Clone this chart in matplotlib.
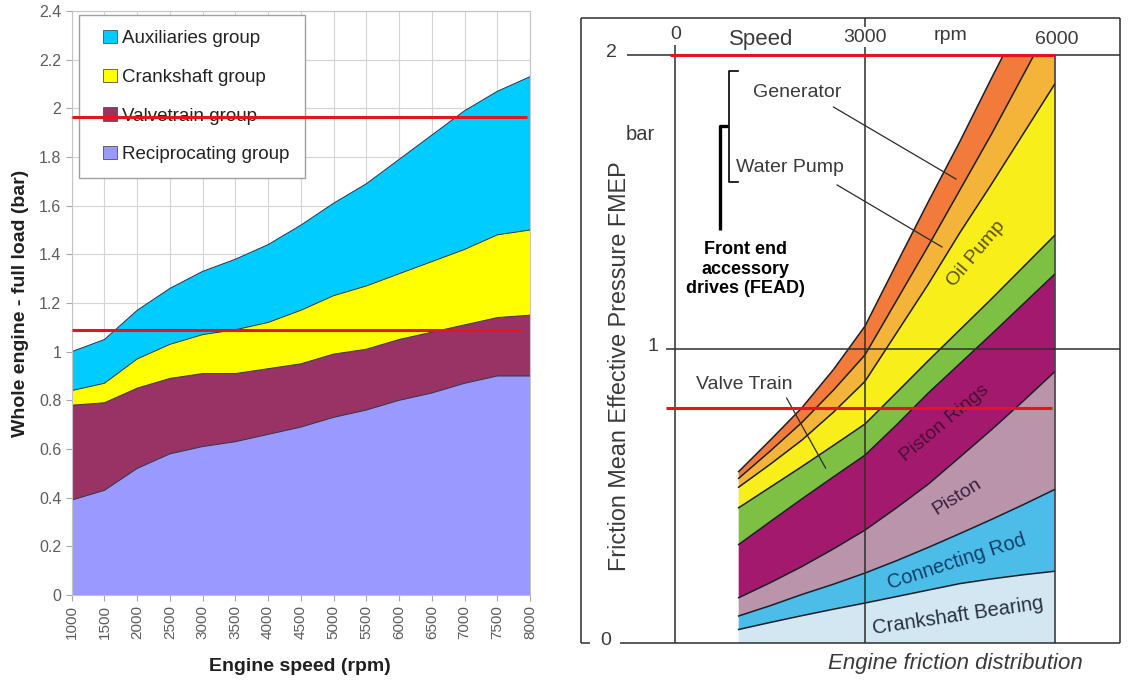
import matplotlib.pyplot as plt
import numpy as np
from matplotlib.patches import Patch, Rectangle
from matplotlib.legend_handler import HandlerPatch

plt.rcParams['font.family'] = ['Liberation Sans', 'DejaVu Sans']

# ---- left chart: friction groups, whole engine at full load ----
speeds = [1000, 1500, 2000, 2500, 3000, 3500, 4000, 4500,
          5000, 5500, 6000, 6500, 7000, 7500, 8000]
reciprocating = [0.39, 0.43, 0.52, 0.58, 0.61, 0.63, 0.66, 0.69,
                 0.73, 0.76, 0.80, 0.83, 0.87, 0.90, 0.90]
valvetrain = [0.39, 0.36, 0.33, 0.31, 0.30, 0.28, 0.27, 0.26,
              0.26, 0.25, 0.25, 0.25, 0.24, 0.24, 0.25]
crankshaft = [0.06, 0.08, 0.12, 0.14, 0.16, 0.18, 0.19, 0.22,
              0.24, 0.26, 0.27, 0.29, 0.31, 0.34, 0.35]
auxiliaries = [0.16, 0.18, 0.20, 0.23, 0.26, 0.29, 0.32, 0.35,
               0.38, 0.42, 0.47, 0.52, 0.57, 0.59, 0.63]
group_names = ['Reciprocating group', 'Valvetrain group',
               'Crankshaft group', 'Auxiliaries group']
group_colors = ['#9999ff', '#993366', '#ffff00', '#00ccff']
left_yticks = [0, 0.2, 0.4, 0.6, 0.8, 1, 1.2, 1.4, 1.6, 1.8, 2, 2.2, 2.4]
# red guide lines drawn over the picture
left_marks = [1.963, 1.088]
left_marks_from = [1000, 1000]
left_marks_to = [7950, 7860]

# ---- right chart: engine friction distribution ----
fd_speeds = [1000, 1500, 2000, 2500, 3000, 3500,
             4000, 4500, 5000, 5500, 6000]
crank_bearing = [0.046, 0.070, 0.093, 0.115, 0.136, 0.158,
                 0.180, 0.202, 0.218, 0.232, 0.244]
conrod = [0.046, 0.057, 0.072, 0.085, 0.102, 0.122,
          0.145, 0.170, 0.202, 0.238, 0.278]
piston = [0.062, 0.078, 0.095, 0.120, 0.146, 0.180,
          0.215, 0.260, 0.305, 0.352, 0.400]
piston_rings = [0.181, 0.208, 0.230, 0.245, 0.255, 0.282,
                0.310, 0.318, 0.325, 0.330, 0.332]
valve_train = [0.125, 0.117, 0.110, 0.107, 0.106, 0.110,
               0.110, 0.115, 0.120, 0.126, 0.132]
oil_pump = [0.070, 0.078, 0.090, 0.113, 0.145, 0.203,
            0.260, 0.330, 0.390, 0.452, 0.514]
water_pump = [0.030, 0.045, 0.060, 0.075, 0.090, 0.110,
              0.130, 0.145, 0.170, 0.200, 0.230]
generator = [0.023, 0.037, 0.050, 0.070, 0.098, 0.125,
             0.150, 0.165, 0.190, 0.200, 0.210]
part_colors = ['#d2e7f2', '#4cbde9', '#b994ab', '#a3196e',
               '#7dc043', '#f7ee1a', '#f4b43a', '#f27a3a']
right_xticks = [0, 3000, 6000]
right_yticks = [0, 1, 2]
right_marks = [2.0, 0.80]
right_marks_from = [-90, -150]
right_marks_to = [6010, 5960]

fig = plt.figure(figsize=(11.34, 6.88), dpi=100)

# ================= left =================
ax = fig.add_axes([71.7 / 1134, 93 / 688, 458.3 / 1134, 584 / 688])
ax.set_axisbelow(True)
ax.grid(True, color='#d4d4d4', lw=0.8)
layers = [reciprocating, valvetrain, crankshaft, auxiliaries]
ax.stackplot(speeds, *layers, colors=group_colors, lw=0)
for top in np.cumsum(layers, axis=0):
    ax.plot(speeds, top, color='#33303f', lw=0.7)
ax.set_xlim(1000, 8000)
ax.set_ylim(0, 2.4)
ax.set_xticks(speeds)
ax.set_xticklabels([str(s) for s in speeds], rotation=90)
ax.set_yticks(left_yticks)
ax.set_yticklabels([f'{v:g}' for v in left_yticks])
ax.tick_params(axis='x', labelsize=11, pad=3)
ax.tick_params(axis='y', labelsize=11.5)
ax.tick_params(colors='#5c5c5c', length=4, width=0.8)
ax.tick_params(color='#a8a8a8', which='both')
for sp in ax.spines.values():
    sp.set_color('#c4c4c4')
ax.set_ylabel('Whole engine - full load (bar)', fontsize=14,
              fontweight='bold', color='#202020')
ax.yaxis.set_label_coords(-0.093, 0.5)
ax.set_xlabel('Engine speed (rpm)', fontsize=14, fontweight='bold',
              color='#202020')
ax.xaxis.set_label_coords(0.498, -0.108)


def square(legend, orig_handle, xdescent, ydescent, width, height, fontsize):
    return Rectangle((width - height - xdescent, -ydescent), height, height)


handles = [Patch(facecolor=c, edgecolor='#505050', lw=0.6, label=n)
           for n, c in zip(group_names, group_colors)][::-1]
leg = ax.legend(handles=handles, loc='upper left',
                bbox_to_anchor=(0.016, 0.993), borderaxespad=0,
                fontsize=13.5, labelspacing=1.15, borderpad=0.8,
                handlelength=1.2, handleheight=0.7, handletextpad=0.3,
                fancybox=False, framealpha=1, edgecolor='#a0a0a0',
                handler_map={Patch: HandlerPatch(patch_func=square)})
leg.get_frame().set_linewidth(1.0)
for t in leg.get_texts():
    t.set_color('#222222')

ax.hlines(left_marks, left_marks_from, left_marks_to, colors='#e3161d',
          lw=2.2, zorder=6)

# ================= right =================
bx = fig.add_axes([570 / 1134, 0, 564 / 1134, 1])
bx.set_xlim(-1670, 7258)
bx.set_ylim(-0.153, 2.187)
bx.axis('off')

clip = Rectangle((-2000, -1), 10000, 3.0, transform=bx.transData)
parts = [crank_bearing, conrod, piston, piston_rings,
         valve_train, oil_pump, water_pump, generator]
for poly in bx.stackplot(fd_speeds, *parts, colors=part_colors, lw=0):
    poly.set_clip_path(clip)
for top in np.cumsum(parts, axis=0):
    ln, = bx.plot(fd_speeds, top, color='#1e1e28', lw=1.1)
    ln.set_clip_path(clip)

line_kw = dict(colors='#2e2e2e', lw=1.1)
frame_l, frame_r, frame_t = -1496, 7037, 2.126
bx.vlines([frame_l, frame_r], 0, frame_t, **line_kw)
bx.hlines(frame_t, frame_l, frame_r, **line_kw)
bx.hlines(0, frame_l, -1354, **line_kw)
bx.hlines(right_yticks, [-879, -150, -768], frame_r, **line_kw)
bx.vlines(right_xticks, 0, [2.04, frame_t, 2.0], **line_kw)

txt = dict(color='#3a3a3a', ha='center', va='center')
for xv, yv, s in zip(right_xticks, [2.068, 2.061, 2.051],
                     ['0', '3000', '6000']):
    bx.text(xv + (30 if xv == 6000 else 0), yv, s, fontsize=14,
            bbox=dict(facecolor='white', edgecolor='none', pad=1), **txt)
bx.text(1353, 2.054, 'Speed', fontsize=16, **txt)
bx.text(4361, 2.065, 'rpm', fontsize=14, **txt)
for xv, yv, s in zip([-1100, -356, -1021], right_yticks, ['0', '1', '2']):
    bx.text(xv, yv + 0.008, s, fontsize=14, **txt)
bx.text(-562, 1.728, 'bar', fontsize=14.5, **txt)
bx.text(-879, 0.942, 'Friction Mean Effective Pressure FMEP',
        fontsize=16.8, rotation=90, **txt)

bx.text(1931, 1.871, 'Generator', fontsize=14, **txt)
bx.text(1806, 1.616, 'Water Pump', fontsize=14, **txt)
bx.text(1111, 1.272, 'Front end\naccessory\ndrives (FEAD)', fontsize=13,
        fontweight='bold', color='black', ha='center', va='center',
        linespacing=1.22)
bx.text(1084, 0.878, 'Valve Train', fontsize=14, **txt)
bx.plot([2501, 4440], [1.823, 1.578], color='#2a2a2a', lw=0.9)
bx.plot([2557, 4219], [1.558, 1.347], color='#2a2a2a', lw=0.9)
bx.plot([1759, 2376], [0.833, 0.595], color='#2a2a2a', lw=0.9)

# FEAD brackets
bx.plot([831, 704, 704], [1.759, 1.759, 1.405], color='black', lw=2.4,
        solid_capstyle='butt')
bx.plot([997, 847, 847, 997], [1.946, 1.946, 1.568, 1.568], color='black',
        lw=1.2)

band_txt = dict(ha='center', va='center', rotation_mode='anchor')
bx.text(4757, 1.323, 'Oil Pump', fontsize=14, rotation=50,
        color='#5e5010', **band_txt)
bx.text(4266, 0.748, 'Piston Rings', fontsize=14, rotation=40,
        color='#4a0f35', **band_txt)
bx.text(4456, 0.497, 'Piston', fontsize=14, rotation=32,
        color='#3a2040', **band_txt)
bx.text(4456, 0.276, 'Connecting Rod', fontsize=14.5, rotation=18,
        color='#10406a', **band_txt)
bx.text(4472, 0.092, 'Crankshaft Bearing', fontsize=14.5, rotation=8.5,
        color='#283040', **band_txt)
bx.text(4432, -0.068, 'Engine friction distribution', fontsize=16,
        style='italic', **txt)

bx.hlines(right_marks, right_marks_from, right_marks_to, colors='#e3161d',
          lw=2.2, zorder=6)

fig.savefig('out.png', dpi=100, facecolor='white')
